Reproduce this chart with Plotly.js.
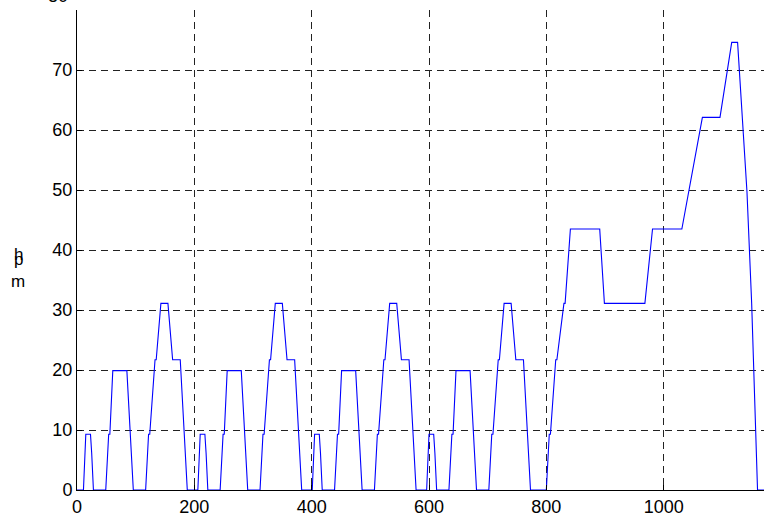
<!DOCTYPE html>
<html>
<head>
<meta charset="utf-8">
<script src="https://cdn.plot.ly/plotly-3.0.1.min.js"></script>
<style>
html,body{margin:0;padding:0;overflow:hidden;background:#fff;}
#chart{width:800px;height:517px;}
</style>
</head>
<body>
<div id="chart"></div>
<script>
// Time (s) and speed (mph)
var timeSec = [
  0, 11, 15, 23, 25, 28, 49, 54, 56, 61, 85, 93, 96, 117, 122, 124, 133, 135, 143, 155, 163, 176, 185, 188,
  195, 206, 210, 218, 220, 223, 244, 249, 251, 256, 280, 288, 291, 312, 317, 319, 328, 330, 338, 350, 358, 371, 380, 383,
  390, 401, 405, 413, 415, 418, 439, 444, 446, 451, 475, 483, 486, 507, 512, 514, 523, 525, 533, 545, 553, 566, 575, 578,
  585, 596, 600, 608, 610, 613, 634, 639, 641, 646, 670, 678, 681, 702, 707, 709, 718, 720, 728, 740, 748, 761, 770, 773,
  780, 800, 805, 807, 816, 818, 830, 832, 841, 891, 899, 968, 981, 1031, 1066, 1096, 1116, 1126, 1142, 1150, 1160, 1180
];
var speedMph = [
  0, 0, 9.3, 9.3, 6.2, 0, 0, 9.3, 9.3, 19.9, 19.9, 6.2, 0, 0, 9.3, 9.3, 21.7, 21.7, 31.1, 31.1, 21.7, 21.7, 6.2, 0,
  0, 0, 9.3, 9.3, 6.2, 0, 0, 9.3, 9.3, 19.9, 19.9, 6.2, 0, 0, 9.3, 9.3, 21.7, 21.7, 31.1, 31.1, 21.7, 21.7, 6.2, 0,
  0, 0, 9.3, 9.3, 6.2, 0, 0, 9.3, 9.3, 19.9, 19.9, 6.2, 0, 0, 9.3, 9.3, 21.7, 21.7, 31.1, 31.1, 21.7, 21.7, 6.2, 0,
  0, 0, 9.3, 9.3, 6.2, 0, 0, 9.3, 9.3, 19.9, 19.9, 6.2, 0, 0, 9.3, 9.3, 21.7, 21.7, 31.1, 31.1, 21.7, 21.7, 6.2, 0,
  0, 0, 9.3, 9.3, 21.7, 21.7, 31.1, 31.1, 43.5, 43.5, 31.1, 31.1, 43.5, 43.5, 62.1, 62.1, 74.6, 74.6, 49.7, 31.1, 0, 0
];
var xTicks = [0, 200, 400, 600, 800, 1000, 1200];
var yTicks = [0, 10, 20, 30, 40, 50, 60, 70, 80];
var yTopLabel = '80';
var yLabelLetters = ['h', 'p', 'm'];

var fontFam = 'Arial, "Liberation Sans", sans-serif';
var tickFont = {family: fontFam, size: 18, color: '#000'};

var trace = {
  x: timeSec, y: speedMph, type: 'scatter', mode: 'lines',
  line: {color: '#0000ff', width: 1.1}, hoverinfo: 'skip'
};

var plotW = 800 - 77 - 19, plotH = 517 - 10 - 27;
var letterPx = [[18, 254], [18, 259], [18, 281]];
var annotations = yLabelLetters.map(function (ch, i) {
  return {
    text: ch, xref: 'paper', yref: 'paper',
    x: (letterPx[i][0] - 77) / plotW, y: (490 - letterPx[i][1]) / plotH,
    xanchor: 'center', yanchor: 'middle', showarrow: false,
    font: {family: fontFam, size: 17, color: '#000'}
  };
});
// top tick label sits partly above the picture, as in the reference
annotations.push({
  text: yTopLabel, xref: 'paper', yref: 'paper',
  x: (70 - 77) / plotW, y: (490 + 4) / plotH,
  xanchor: 'right', yanchor: 'middle', showarrow: false, font: tickFont
});

var layout = {
  width: 800, height: 517,
  margin: {l: 77, r: 19, t: 10, b: 27},
  paper_bgcolor: '#fff', plot_bgcolor: '#fff',
  showlegend: false,
  xaxis: {
    range: [0, 1200], tickvals: xTicks, ticktext: xTicks.map(String),
    showline: true, linecolor: '#000', linewidth: 1, mirror: false,
    ticks: 'inside', ticklen: 5, tickcolor: '#000',
    showgrid: true, gridcolor: '#222', griddash: '7px,5px', gridwidth: 1,
    zeroline: false, tickfont: tickFont
  },
  yaxis: {
    range: [0, 80], tickvals: yTicks,
    ticktext: yTicks.map(function (v) { return v === 80 ? '' : String(v); }),
    showline: true, linecolor: '#000', linewidth: 1, mirror: false,
    ticks: 'inside', ticklen: 5, tickcolor: '#000',
    showgrid: true, gridcolor: '#222', griddash: '7px,5px', gridwidth: 1,
    zeroline: false, tickfont: tickFont
  },
  annotations: annotations
};

Plotly.newPlot('chart', [trace], layout, {displayModeBar: false, staticPlot: true});
</script>
</body>
</html>
